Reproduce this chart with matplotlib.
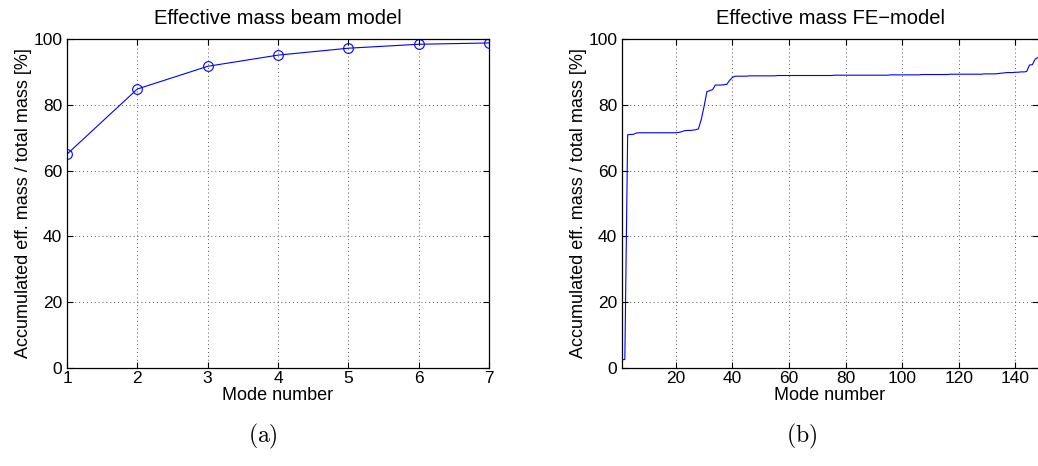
import matplotlib
matplotlib.use("Agg")
import matplotlib.pyplot as plt

plt.rcParams['font.family'] = ['Liberation Sans', 'DejaVu Sans']
plt.rcParams['mathtext.fontset'] = 'cm'

# Accumulated effective mass, beam model
beam_modes = [1, 2, 3, 4, 5, 6, 7]
beam_mass = [65.0, 84.8, 91.7, 95.1, 97.2, 98.4, 98.8]

# Accumulated effective mass, FE model (modes 1..148)
fe_mass = [
    2.5, 2.6, 70.9, 71.0, 71.0, 71.4, 71.5, 71.5, 71.5, 71.5,
    71.5, 71.5, 71.5, 71.5, 71.5, 71.5, 71.5, 71.5, 71.5, 71.5,
    71.6, 71.8, 72.1, 72.2, 72.2, 72.3, 72.4, 72.7, 75.5, 79.5,
    84.0, 84.3, 84.6, 86.0, 86.0, 86.0, 86.1, 86.2, 87.4, 88.3,
    88.7, 88.7, 88.7, 88.7, 88.7, 88.8, 88.8, 88.8, 88.8, 88.8,
    88.8, 88.8, 88.8, 88.8, 88.8, 88.9, 88.9, 88.9, 88.9, 88.9,
    88.9, 88.9, 88.9, 88.9, 88.9, 88.9, 88.9, 88.9, 88.9, 88.9,
    88.9, 88.9, 88.9, 88.9, 88.9, 89.0, 89.0, 89.0, 89.0, 89.0,
    89.0, 89.0, 89.0, 89.0, 89.0, 89.0, 89.0, 89.0, 89.0, 89.0,
    89.0, 89.0, 89.0, 89.0, 89.0, 89.1, 89.1, 89.1, 89.1, 89.1,
    89.1, 89.1, 89.1, 89.1, 89.1, 89.1, 89.2, 89.2, 89.2, 89.2,
    89.2, 89.2, 89.2, 89.2, 89.2, 89.2, 89.3, 89.3, 89.3, 89.3,
    89.3, 89.3, 89.3, 89.3, 89.3, 89.3, 89.3, 89.3, 89.4, 89.4,
    89.4, 89.4, 89.4, 89.5, 89.6, 89.7, 89.8, 89.8, 89.8, 89.9,
    89.9, 90.0, 90.0, 90.1, 92.1, 92.2, 93.9, 94.4,
]
fe_modes = list(range(1, len(fe_mass) + 1))

y_ticks = [0, 20, 40, 60, 80, 100]
fe_x_ticks = [20, 40, 60, 80, 100, 120, 140]

W, H = 1038, 466
fig = plt.figure(figsize=(W / 100, H / 100), dpi=100)

ax1 = fig.add_axes([67 / W, (H - 368) / H, (489 - 67) / W, (368 - 39) / H])
ax2 = fig.add_axes([622 / W, (H - 368) / H, (W - 622) / W, (368 - 39) / H])

TICK_FS = 12.5
LABEL_FS = 13
TITLE_FS = 14.5


def style(ax):
    ax.set_ylim(0, 100)
    ax.set_yticks(y_ticks)
    ax.grid(True, linestyle=(0, (1, 3)), color='#555555', linewidth=0.7)
    ax.tick_params(direction='in', top=True, right=True, labelsize=TICK_FS,
                   length=4, width=0.8, colors='black')
    ax.tick_params(axis='x', pad=2.5)
    ax.tick_params(axis='y', pad=3.5)
    for s in ax.spines.values():
        s.set_linewidth(0.9)
    ax.set_xlabel('Mode number', fontsize=LABEL_FS)
    ax.xaxis.set_label_coords(0.5, -0.058)
    ax.set_ylabel('Accumulated eff. mass / total mass [%]', fontsize=LABEL_FS,
                  labelpad=0.5)


ax1.plot(beam_modes, beam_mass, color='#0000ff', linewidth=0.8,
         marker='o', markersize=7, markerfacecolor='none', markeredgewidth=0.8)
ax1.set_xlim(1, 7)
ax1.set_xticks(beam_modes)
style(ax1)
ax1.set_title('Effective mass beam model', fontsize=TITLE_FS, pad=11)

ax2.plot(fe_modes, fe_mass, color='#0000ff', linewidth=0.8)
ax2.set_xlim(1, 148)
ax2.set_xticks(fe_x_ticks)
style(ax2)
ax2.spines['right'].set_visible(False)
ax2.set_title('Effective mass FE\u2212model', fontsize=TITLE_FS, pad=11)

fig.text(263 / W, 1 - 436 / H, r'$\mathrm{(a)}$', fontsize=17, ha='center', va='center')
fig.text(802 / W, 1 - 436 / H, r'$\mathrm{(b)}$', fontsize=17, ha='center', va='center')

fig.savefig('out.png', dpi=100)
